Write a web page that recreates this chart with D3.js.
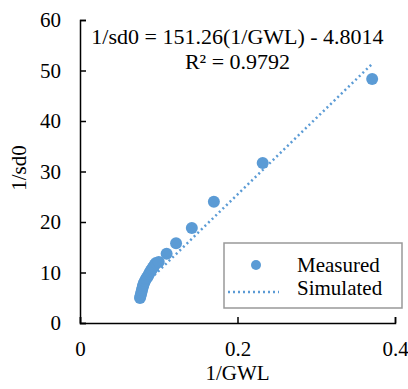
<!DOCTYPE html>
<html>
  <head lang="en">
    <meta charset="utf-8">
    <title>1/sd0 vs 1/GWL</title>
    <script type="text/javascript" src="https://cdn.jsdelivr.net/npm/d3@7"></script>
    <style>
      body { margin: 0; background: #fff; }
      text { font-family: "Liberation Serif", "Times New Roman", serif; }
    </style>
  </head>
  <body>
    <script type="text/javascript">

      // measured points (1/GWL, 1/sd0)
      var invGwl = [0.0762, 0.0768, 0.0775, 0.0781, 0.0787, 0.0794, 0.0800, 0.0806, 0.0813, 0.0825,
                    0.0838, 0.0851, 0.0864, 0.0876, 0.0889, 0.0902, 0.0914, 0.0927, 0.0940, 0.0952,
                    0.0965, 0.100, 0.110, 0.122, 0.142, 0.170, 0.232, 0.371];
      var invSd0 = [4.95, 5.35, 5.74, 6.13, 6.53, 6.93, 7.33, 7.62, 7.92, 8.32,
                    8.71, 9.01, 9.31, 9.70, 10.10, 10.40, 10.69, 11.0, 11.29, 11.58,
                    11.88, 12.1, 13.7, 15.8, 18.8, 24.0, 31.7, 48.3];

      // fitted line from the equation shown on the chart
      var slope = 151.26;
      var intercept = -4.8014;
      var equation = "1/sd0 = 151.26(1/GWL) - 4.8014";
      var rSquared = "R\u00B2 = 0.9792";

      var xTicks = [0, 0.2, 0.4];
      var yTicks = [0, 10, 20, 30, 40, 50, 60];
      var legendNames = ["Measured", "Simulated"];

      var color = "#5b9bd5";
      var width = 408, height = 389;
      var margin = {top: 20, right: 13, bottom: 66, left: 80};
      var plotW = width - margin.left - margin.right;
      var plotH = height - margin.top - margin.bottom;

      var svg = d3.select("body").append("svg")
          .attr("width", width)
          .attr("height", height);

      var g = svg.append("g")
          .attr("transform", "translate(" + margin.left + "," + margin.top + ")");

      var x = d3.scaleLinear().domain([0, 0.4]).range([0, plotW]);
      var y = d3.scaleLinear().domain([0, 60]).range([plotH, 0]);

      var data = invGwl.map(function(v, i) { return {x: v, y: invSd0[i]}; });

      // axes with inward ticks
      var xAxis = g.append("g")
          .attr("transform", "translate(0," + plotH + ")")
          .call(d3.axisBottom(x).tickValues(xTicks).tickSizeInner(-6).tickSizeOuter(-6)
                .tickPadding(18).tickFormat(function(d) { return d === 0 ? "0" : d3.format(".1f")(d); }));

      var yAxis = g.append("g")
          .call(d3.axisLeft(y).tickValues(yTicks).tickSizeInner(-6).tickSizeOuter(-6)
                .tickPadding(19).tickFormat(d3.format("d")));

      [xAxis, yAxis].forEach(function(a) {
        a.select(".domain").attr("stroke", "#000").attr("stroke-width", 1.5);
        a.selectAll(".tick line").attr("stroke", "#000").attr("stroke-width", 1.5);
        a.selectAll(".tick text").attr("font-size", 21).attr("fill", "#000")
          .style("font-family", "'Liberation Serif', serif");
      });

      // trend line
      var xMin = d3.min(invGwl), xMax = d3.max(invGwl);
      g.append("line")
          .attr("x1", x(xMin)).attr("y1", y(slope * xMin + intercept))
          .attr("x2", x(xMax)).attr("y2", y(slope * xMax + intercept))
          .attr("stroke", color)
          .attr("stroke-width", 2.5)
          .attr("stroke-dasharray", "2,3");

      // measured points
      g.selectAll("circle.pt")
          .data(data)
          .enter()
          .append("circle")
          .attr("class", "pt")
          .attr("cx", function(d) { return x(d.x); })
          .attr("cy", function(d) { return y(d.y); })
          .attr("r", 6)
          .attr("fill", color);

      // equation text
      g.append("text")
          .attr("x", x(0.2)).attr("y", 23.5)
          .attr("text-anchor", "middle")
          .attr("font-size", 22)
          .text(equation);
      g.append("text")
          .attr("x", x(0.2)).attr("y", 49)
          .attr("text-anchor", "middle")
          .attr("font-size", 22)
          .text(rSquared);

      // axis titles
      svg.append("text")
          .attr("x", margin.left + x(0.2)).attr("y", 380)
          .attr("text-anchor", "middle")
          .attr("font-size", 21)
          .text("1/GWL");
      svg.append("text")
          .attr("transform", "translate(26,168) rotate(-90)")
          .attr("text-anchor", "middle")
          .attr("font-size", 21)
          .text("1/sd0");

      // legend
      var legend = svg.append("g").attr("transform", "translate(224,243)");
      legend.append("rect")
          .attr("width", 178).attr("height", 65)
          .attr("fill", "#fff")
          .attr("stroke", "#999")
          .attr("stroke-width", 1.5);
      legend.append("circle")
          .attr("cx", 32).attr("cy", 22).attr("r", 5)
          .attr("fill", color);
      legend.append("line")
          .attr("x1", 4).attr("x2", 55).attr("y1", 49).attr("y2", 49)
          .attr("stroke", color).attr("stroke-width", 2.5)
          .attr("stroke-dasharray", "2,3");
      legend.selectAll("text.lg")
          .data(legendNames)
          .enter()
          .append("text")
          .attr("class", "lg")
          .attr("x", 73)
          .attr("y", function(d, i) { return 29 + i * 23; })
          .attr("font-size", 21)
          .text(function(d) { return d; });
    </script>
  </body>
</html>
